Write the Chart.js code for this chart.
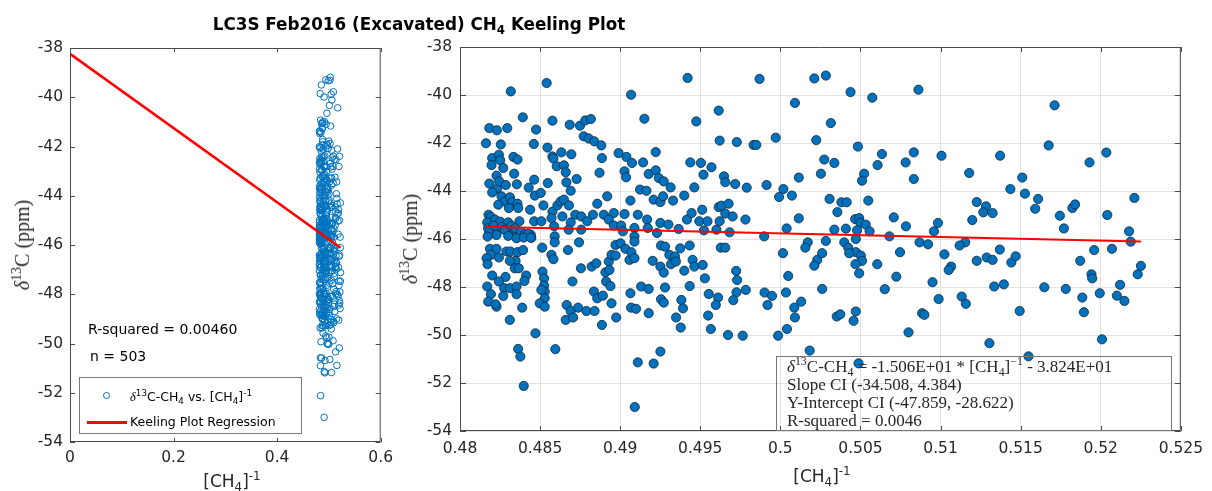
<!DOCTYPE html>
<html>
<head>
<meta charset="utf-8">
<title>LC3S Feb2016 (Excavated) CH4 Keeling Plot</title>
<script src="https://cdn.jsdelivr.net/npm/chart.js@4.4.1/dist/chart.umd.min.js"></script>
<style>
  html, body { margin: 0; padding: 0; background: #fff; }
  #fig { position: relative; width: 1212px; height: 491px; overflow: hidden; background: #fff;
         font-family: "DejaVu Sans", sans-serif; color: #262626; }
  canvas { position: absolute; top: 0; }
  #cFull { left: 0; }
  #cZoom { left: 400px; }
  .lbl { position: absolute; white-space: nowrap; line-height: 1; }
  .sub { font-size: 0.7em; position: relative; top: 0.3em; }
  .sup { font-size: 0.7em; position: relative; top: -0.55em; }
  .serif { font-family: "Liberation Serif", "Times New Roman", serif; }
  #title { left: 419px; top: 16px; transform: translateX(-50%); font-weight: bold; font-size: 16.8px; color: #000; }
  .ytitle { font-family: "Liberation Serif", serif; font-size: 20px; transform: translate(-50%, -50%) rotate(-90deg); }
  .xtitle { font-size: 17px; transform: translateX(-50%); }
  .note { font-size: 14px; color: #000; }
  #legend { position: absolute; left: 79px; top: 377px; width: 223px; height: 57px; box-sizing: border-box;
            border: 1px solid #777; background: #fff; }
  .leg { font-size: 12.5px; color: #000; }
  #legMark { position: absolute; left: 103px; top: 392px; width: 7px; height: 7px; box-sizing: border-box;
             border: 1px solid #0072BD; border-radius: 50%; }
  #legLine { position: absolute; left: 87px; top: 421px; width: 40px; height: 3px; background: #ff0000; }
  #fitBox { position: absolute; left: 776px; top: 356px; width: 396px; height: 75px; box-sizing: border-box;
            border: 1px solid #777; }
  .fit { font-family: "Liberation Serif", serif; font-size: 17px; color: #262626; left: 787px; }
</style>
</head>
<body>
<div id="fig">
  <canvas id="cFull" width="400" height="491"></canvas>
  <canvas id="cZoom" width="812" height="491"></canvas>

  <div class="lbl" id="title">LC3S Feb2016 (Excavated) CH<span class="sub">4</span> Keeling Plot</div>

  <div class="lbl ytitle" style="left:22px; top:245px;"><i>δ</i><span class="sup">13</span>C (ppm)</div>
  <div class="lbl ytitle" style="left:410px; top:239px;"><i>δ</i><span class="sup">13</span>C (ppm)</div>

  <div class="lbl xtitle" style="left:232px; top:473px;">[CH<span class="sub">4</span>]<span class="sup">-1</span></div>
  <div class="lbl xtitle" style="left:822px; top:468px;">[CH<span class="sub">4</span>]<span class="sup">-1</span></div>

  <div class="lbl note" style="left:88px; top:322px;">R-squared = 0.00460</div>
  <div class="lbl note" style="left:90px; top:349px;">n = 503</div>

  <div id="legend"></div>
  <div id="legMark"></div>
  <div class="lbl leg" style="left:130px; top:391px;"><i class="serif">δ</i><span class="sup">13</span>C-CH<span class="sub">4</span> vs. [CH<span class="sub">4</span>]<span class="sup">-1</span></div>
  <div id="legLine"></div>
  <div class="lbl leg" style="left:130px; top:416px;">Keeling Plot Regression</div>

  <div id="fitBox"></div>
  <div class="lbl fit" style="top:358px;"><i>δ</i><span class="sup">13</span>C-CH<span class="sub">4</span> = -1.506E+01 * [CH<span class="sub">4</span>]<span class="sup">−1</span> - 3.824E+01</div>
  <div class="lbl fit" style="top:376px;">Slope CI (-34.508, 4.384)</div>
  <div class="lbl fit" style="top:394px;">Y-Intercept CI (-47.859, -28.622)</div>
  <div class="lbl fit" style="top:412px;">R-squared = 0.0046</div>
</div>

<script>
// Keeling regression coefficients: d13C = slope * [CH4]^-1 + intercept
const slope = -15.06;
const intercept = -38.24;

// Tick positions
const yTicks = [-54, -52, -50, -48, -46, -44, -42, -40, -38];
const xTicksFull = [0, 0.2, 0.4, 0.6];
const xTicksZoom = [0.48, 0.485, 0.49, 0.495, 0.5, 0.505, 0.51, 0.515, 0.52, 0.525];

// Samples: [ [CH4]^-1 , d13C-CH4 (ppm) ]
const samples = [
  [0.48317,-39.85],[0.48541,-39.50],[0.49421,-39.29],[0.49068,-39.99],[0.48392,-40.93],[0.48577,-41.07],
  [0.49151,-40.99],[0.49475,-41.10],[0.48183,-41.38],[0.48230,-41.47],[0.48295,-41.38],[0.48475,-41.44],
  [0.48685,-41.24],[0.48749,-41.28],[0.48782,-41.06],[0.48817,-41.00],[0.48162,-42.01],[0.48255,-42.06],
  [0.48461,-42.04],[0.48546,-42.19],[0.48772,-41.72],[0.48803,-41.81],[0.48838,-41.93],[0.48882,-42.10],
  [0.48201,-42.63],[0.48197,-42.92],[0.48243,-42.49],[0.48251,-42.72],[0.48270,-43.04],[0.48334,-42.58],
  [0.48359,-42.69],[0.48338,-43.28],[0.48577,-42.56],[0.48583,-42.65],[0.48604,-42.97],[0.48633,-42.39],
  [0.48649,-42.93],[0.48660,-43.22],[0.48695,-42.47],[0.48886,-42.63],[0.48871,-43.24],[0.48990,-42.42],
  [0.49039,-42.58],[0.49074,-42.83],[0.49027,-43.18],[0.49037,-43.43],[0.49143,-42.81],[0.49222,-42.38],
  [0.49178,-43.29],[0.49222,-43.14],[0.49241,-43.46],[0.49272,-43.60],[0.49315,-43.85],[0.49438,-42.81],
  [0.49504,-42.83],[0.49520,-43.32],[0.48183,-43.69],[0.48228,-43.36],[0.48232,-43.90],[0.48201,-44.06],
  [0.48245,-43.60],[0.48286,-43.75],[0.48355,-43.72],[0.48463,-43.53],[0.48467,-44.19],[0.48504,-44.08],
  [0.48429,-43.86],[0.48548,-43.67],[0.48664,-43.64],[0.48691,-43.99],[0.48728,-43.50],[0.48919,-44.22],
  [0.48857,-44.53],[0.49124,-43.94],[0.49164,-43.99],[0.49209,-44.36],[0.49251,-44.46],[0.49268,-44.22],
  [0.49330,-44.40],[0.49400,-44.19],[0.49463,-43.85],[0.49064,-44.40],[0.48259,-44.22],[0.48280,-44.43],
  [0.48239,-44.57],[0.48311,-44.26],[0.48326,-44.47],[0.48359,-44.53],[0.48305,-44.71],[0.48363,-44.71],
  [0.48438,-44.78],[0.48521,-44.60],[0.48577,-44.86],[0.48608,-44.60],[0.48629,-44.43],[0.48649,-44.36],
  [0.48680,-44.60],[0.48639,-45.06],[0.48571,-45.13],[0.48178,-44.99],[0.48193,-45.08],[0.48170,-45.31],
  [0.48218,-45.19],[0.48251,-45.28],[0.48301,-45.31],[0.48371,-45.26],[0.48463,-45.26],[0.48508,-45.26],
  [0.48691,-45.31],[0.48720,-44.99],[0.48757,-45.06],[0.48794,-45.26],[0.48830,-44.99],[0.48898,-44.99],
  [0.48960,-44.92],[0.48929,-45.19],[0.49027,-44.96],[0.49110,-44.99],[0.49168,-45.19],[0.49251,-45.33],
  [0.49301,-45.40],[0.49417,-45.19],[0.49446,-44.92],[0.49494,-45.26],[0.48960,-45.44],[0.49006,-45.44],
  [0.49089,-45.54],[0.49017,-45.68],[0.49172,-45.54],[0.49230,-45.75],[0.49365,-45.58],[0.48757,-45.61],
  [0.48588,-45.47],[0.48183,-45.72],[0.48218,-45.78],[0.48301,-45.75],[0.48353,-45.78],[0.48442,-45.82],
  [0.48591,-45.89],[0.48678,-45.61],[0.49089,-45.89],
  [0.48175,-45.55],[0.48190,-45.62],[0.48210,-45.45],[0.48235,-45.65],[0.48260,-45.50],[0.48280,-45.62],
  [0.48320,-45.45],[0.48345,-45.55],[0.48380,-45.70],[0.48405,-45.80],[0.48427,-45.79],[0.48445,-45.95],
  [0.48172,-45.90],[0.48228,-45.83],[0.48301,-45.87],[0.48353,-45.97],[0.48398,-45.94],[0.48442,-45.94],
  [0.48513,-46.36],[0.48591,-46.14],[0.48674,-46.46],[0.48743,-46.14],[0.48571,-46.66],[0.48583,-46.84],
  [0.48187,-46.41],[0.48228,-46.41],[0.48193,-46.66],[0.48243,-46.77],[0.48166,-46.80],[0.48172,-47.05],
  [0.48290,-46.52],[0.48315,-46.52],[0.48359,-46.55],[0.48394,-46.46],[0.48347,-46.91],[0.48311,-46.91],
  [0.48201,-47.52],[0.48284,-47.58],[0.48243,-47.77],[0.48342,-47.22],[0.48367,-47.22],[0.48413,-47.52],
  [0.48402,-47.75],[0.48170,-47.98],[0.48193,-48.30],[0.48176,-48.61],[0.48228,-48.82],[0.48276,-48.05],
  [0.48270,-48.37],[0.48311,-48.05],[0.48353,-47.98],[0.48353,-48.30],[0.48222,-48.72],[0.48388,-48.86],
  [0.48311,-49.37],[0.48515,-47.36],[0.48525,-47.64],[0.48525,-47.94],[0.48529,-48.19],[0.48529,-48.47],
  [0.48498,-48.68],[0.48529,-48.82],[0.48508,-48.12],[0.48471,-49.93],[0.48363,-50.58],[0.48377,-50.90],
  [0.48398,-52.12],[0.48595,-50.59],[0.48666,-48.75],[0.48691,-49.00],[0.48660,-49.37],[0.48706,-49.27],
  [0.48737,-48.86],[0.48789,-49.00],[0.48840,-49.00],[0.48886,-49.58],[0.48702,-47.77],[0.48755,-47.22],
  [0.48822,-47.15],[0.48851,-47.01],[0.48836,-48.19],[0.48857,-48.47],[0.48892,-48.36],[0.48908,-47.39],
  [0.48929,-46.94],[0.48946,-46.66],[0.48971,-46.69],[0.48933,-47.29],[0.48912,-47.77],[0.48939,-47.96],
  [0.48946,-48.68],[0.48975,-49.27],[0.48971,-46.25],[0.49002,-46.18],[0.49033,-46.41],[0.49058,-46.87],
  [0.49070,-46.55],[0.49089,-46.80],[0.49089,-46.11],[0.49064,-48.26],[0.49068,-48.86],[0.49099,-48.91],
  [0.49131,-47.98],[0.49178,-48.08],[0.49178,-49.09],[0.49110,-51.14],[0.49209,-51.19],[0.49251,-50.69],
  [0.49091,-53.00],[0.49203,-46.91],[0.49251,-47.15],[0.49272,-47.40],[0.49255,-46.27],[0.49280,-46.32],
  [0.49307,-46.66],[0.49317,-47.05],[0.49342,-46.73],[0.49348,-46.94],[0.49375,-46.39],[0.49400,-47.32],
  [0.49434,-46.27],[0.49452,-46.87],[0.49463,-47.15],[0.49280,-48.02],[0.49255,-48.51],[0.49272,-48.65],
  [0.49434,-47.96],[0.49382,-48.54],[0.49392,-48.89],[0.49349,-49.27],[0.49378,-49.69],[0.49515,-47.08],
  [0.49870,-39.33],[0.50212,-39.31],[0.50284,-39.19],[0.50438,-39.88],[0.50574,-40.11],[0.50862,-39.78],
  [0.49615,-40.65],[0.50091,-40.33],[0.50315,-41.17],[0.49621,-41.90],[0.49728,-41.96],[0.49833,-42.08],
  [0.49850,-42.08],[0.49971,-41.78],[0.50224,-41.88],[0.50484,-42.15],[0.50634,-42.46],[0.50833,-42.39],
  [0.51006,-42.53],[0.50782,-42.81],[0.50607,-42.92],[0.50274,-42.69],[0.50337,-42.83],[0.50253,-43.28],
  [0.50115,-43.44],[0.50523,-43.28],[0.50510,-43.57],[0.50833,-43.50],[0.49570,-43.01],[0.49648,-43.39],
  [0.49656,-43.63],[0.49718,-43.71],[0.49790,-43.86],[0.49914,-43.75],[0.50019,-43.92],[0.49992,-44.25],
  [0.50072,-44.19],[0.50307,-44.33],[0.50381,-44.47],[0.50414,-44.47],[0.50549,-44.40],[0.50356,-44.88],
  [0.49615,-44.67],[0.49632,-44.61],[0.49677,-44.53],[0.49512,-44.78],[0.49656,-44.94],[0.49702,-45.06],
  [0.49545,-45.26],[0.49621,-45.26],[0.49782,-45.19],[0.50115,-45.14],[0.49523,-45.64],[0.49601,-45.61],
  [0.49683,-45.72],[0.50039,-45.56],[0.49899,-45.89],[0.50337,-45.61],[0.50409,-45.57],[0.50467,-45.17],
  [0.50492,-45.13],[0.50500,-45.33],[0.50533,-45.40],[0.50479,-45.64],[0.50557,-45.68],[0.50708,-45.10],
  [0.50784,-45.47],[0.50959,-45.68],[0.50984,-45.33],[0.50681,-45.89],
  [0.50171,-46.14],[0.50156,-46.36],[0.50284,-46.08],[0.50399,-46.14],[0.50424,-46.36],[0.50471,-46.00],
  [0.50471,-46.55],[0.50502,-46.69],[0.50510,-46.91],[0.50469,-47.05],[0.50492,-47.43],[0.50430,-46.59],
  [0.50605,-47.05],[0.50747,-46.55],[0.50869,-46.14],[0.50922,-46.22],[0.51024,-46.64],[0.49628,-46.36],
  [0.49656,-46.36],[0.50016,-46.59],[0.50230,-46.87],[0.50261,-46.59],[0.50212,-47.11],[0.49529,-47.64],
  [0.49724,-47.33],[0.49730,-47.71],[0.50049,-47.54],[0.50724,-47.57],[0.50950,-47.80],[0.50261,-48.08],
  [0.50652,-48.09],[0.49553,-48.29],[0.49611,-48.44],[0.49597,-48.75],[0.49726,-48.22],[0.49706,-48.55],
  [0.49784,-48.12],[0.49901,-48.23],[0.49948,-48.37],[0.49920,-48.75],[0.50035,-48.23],[0.50130,-48.61],
  [0.50087,-48.86],[0.50091,-49.27],[0.49549,-49.19],[0.49566,-49.75],[0.49673,-50.00],[0.49765,-50.03],
  [0.49986,-50.03],[0.50041,-49.75],[0.50352,-49.23],[0.50374,-49.14],[0.50457,-49.41],[0.50471,-49.02],
  [0.50800,-49.89],[0.50988,-48.50],[0.50885,-49.09],[0.50899,-49.16],[0.50183,-50.65],[0.50488,-51.18],
  [0.51712,-40.43],[0.51675,-42.10],[0.52035,-42.40],[0.51930,-42.81],[0.51372,-42.53],[0.51179,-43.25],
  [0.51510,-43.44],[0.51436,-43.92],[0.51527,-44.11],[0.51609,-44.33],[0.51591,-44.74],[0.51226,-44.46],
  [0.51284,-44.64],[0.51267,-44.89],[0.51325,-44.92],[0.51198,-45.21],[0.51745,-45.03],[0.51770,-45.56],
  [0.51823,-44.71],[0.51840,-44.56],[0.52041,-45.00],[0.52210,-44.29],[0.52177,-45.68],
  [0.52187,-46.11],[0.51154,-46.14],[0.51119,-46.27],[0.51066,-47.15],[0.51051,-47.29],[0.51226,-46.91],
  [0.51288,-46.77],[0.51325,-46.87],[0.51370,-46.44],[0.51442,-46.98],[0.51469,-46.72],[0.51132,-48.40],
  [0.51158,-48.70],[0.51335,-47.98],[0.51395,-47.89],[0.51494,-49.00],[0.51305,-50.34],[0.51549,-50.89],
  [0.51648,-48.01],[0.51782,-48.08],[0.51872,-46.91],[0.51885,-48.44],[0.51895,-49.05],[0.51942,-47.47],
  [0.51947,-47.64],[0.51959,-46.46],[0.51994,-48.26],[0.52008,-50.18],[0.52070,-46.41],[0.52101,-48.36],
  [0.52121,-47.91],[0.52148,-48.58],[0.52231,-47.47],[0.52251,-47.12]
];

const points = samples.map(([x, y]) => ({ x, y }));
const xs = samples.map(s => s[0]);
const xLow = Math.min(...xs);
const xHigh = Math.max(...xs);
const fitAt = x => ({ x, y: slope * x + intercept });

const fmt = v => String(Number(v.toFixed(3)));
const tickFont = { family: 'DejaVu Sans', size: 15.5 };
const tickColor = '#262626';

// Axis box with inward tick marks on all four sides
const frameTicks = {
  id: 'frameTicks',
  afterDatasetsDraw(chart, args, opts) {
    const { ctx, chartArea: a, scales: { x, y } } = chart;
    ctx.save();
    ctx.strokeStyle = opts.color;
    ctx.lineWidth = 1;
    ctx.beginPath();
    ctx.rect(a.left + 0.5, a.top + 0.5, a.right - a.left - 1, a.bottom - a.top - 1);
    x.ticks.forEach(t => {
      const px = Math.round(x.getPixelForValue(t.value)) + 0.5;
      ctx.moveTo(px, a.bottom); ctx.lineTo(px, a.bottom - opts.xLen);
      ctx.moveTo(px, a.top); ctx.lineTo(px, a.top + opts.xLen);
    });
    y.ticks.forEach(t => {
      const py = Math.round(y.getPixelForValue(t.value)) + 0.5;
      ctx.moveTo(a.left, py); ctx.lineTo(a.left + opts.yLen, py);
      ctx.moveTo(a.right, py); ctx.lineTo(a.right - opts.yLen, py);
    });
    ctx.stroke();
    ctx.restore();
  }
};

function makePanel(canvasId, cfg) {
  return new Chart(document.getElementById(canvasId), {
    type: 'scatter',
    data: { datasets: cfg.datasets },
    options: {
      responsive: false,
      animation: false,
      events: [],
      layout: { padding: { top: cfg.padTop, right: cfg.padRight, left: 0, bottom: 0 } },
      plugins: {
        legend: { display: false },
        tooltip: { enabled: false },
        frameTicks: { color: '#4a4a4a', xLen: cfg.xLen, yLen: cfg.yLen }
      },
      scales: {
        x: {
          type: 'linear', min: cfg.xMin, max: cfg.xMax,
          afterBuildTicks: s => { s.ticks = cfg.xTicks.map(v => ({ value: v })); },
          afterFit: s => { s.height = cfg.xAxisHeight; },
          ticks: { callback: v => fmt(v), font: tickFont, color: tickColor, padding: cfg.xPad,
                   maxRotation: 0, autoSkip: false },
          grid: { display: cfg.grid, drawTicks: false, color: '#e2e2e2', lineWidth: 1 },
          border: { display: false }
        },
        y: {
          type: 'linear', min: -54, max: -38,
          afterBuildTicks: s => { s.ticks = yTicks.map(v => ({ value: v })); },
          afterFit: s => { s.width = cfg.yAxisWidth; },
          ticks: { callback: v => fmt(v), font: tickFont, color: tickColor, padding: cfg.yPad, autoSkip: false },
          grid: { display: cfg.grid, drawTicks: false, color: '#e2e2e2', lineWidth: 1 },
          border: { display: false }
        }
      }
    },
    plugins: [frameTicks]
  });
}

// Full-range Keeling plot: open markers, regression extended to the y-intercept
makePanel('cFull', {
  xMin: 0, xMax: 0.6, xTicks: xTicksFull, grid: false,
  padTop: 48, padRight: 16, xAxisHeight: 49, yAxisWidth: 70, xPad: 7, yPad: 7, xLen: 4, yLen: 5,
  datasets: [
    { data: [fitAt(0), fitAt(xHigh)], showLine: true, borderColor: '#ff0000', borderWidth: 2.6,
      pointRadius: 0, fill: false },
    { data: points, pointRadius: 3.3, pointBorderWidth: 1, pointBorderColor: '#0072BD',
      pointBackgroundColor: 'rgba(0,0,0,0)' }
  ]
});

// Zoomed view over the sampled range: filled markers with regression line
makePanel('cZoom', {
  xMin: 0.48, xMax: 0.525, xTicks: xTicksZoom, grid: true,
  padTop: 47, padRight: 25, xAxisHeight: 60, yAxisWidth: 60, xPad: 9, yPad: 8, xLen: 5, yLen: 6,
  datasets: [
    { data: [fitAt(xLow), fitAt(xHigh)], showLine: true, borderColor: '#ff0000', borderWidth: 2,
      pointRadius: 0, fill: false },
    { data: points, pointRadius: 4.6, pointBorderWidth: 0.8, pointBorderColor: '#10263a',
      pointBackgroundColor: '#0072BD' }
  ]
});
</script>
</body>
</html>
